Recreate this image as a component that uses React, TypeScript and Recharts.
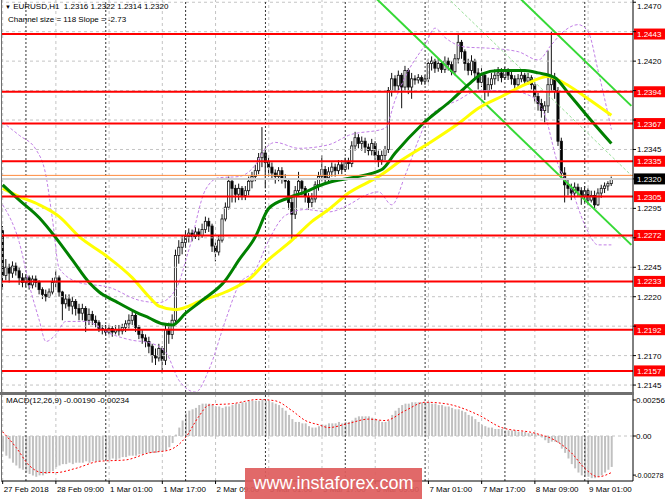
import { ComposedChart, Bar, Line, XAxis, YAxis, ReferenceLine } from "recharts";

// EURUSD H1, 27 Feb 17:00 .. 9 Mar 08:00 (one entry per hourly bar)
const FIRST_OPEN = 1.2276;

const CLOSE = [
  1.2238, 1.2245, 1.224, 1.2246, 1.2242, 1.2236, 1.2232, 1.2236, 1.223, 1.2235,
  1.2232, 1.2226, 1.2222, 1.222, 1.2224, 1.2232, 1.2236, 1.2224, 1.2214, 1.2218,
  1.2212, 1.2216, 1.221, 1.2206, 1.221, 1.22, 1.2205, 1.22, 1.2198, 1.2193,
  1.2192, 1.219, 1.2193, 1.219, 1.2192, 1.2191, 1.2194, 1.2197, 1.22, 1.2204,
  1.2194, 1.2188, 1.2185, 1.2182, 1.2178, 1.217, 1.2168, 1.2176, 1.2166, 1.2192,
  1.2188, 1.22, 1.2255, 1.2262, 1.2266, 1.2271, 1.2274, 1.2271, 1.2275, 1.2272,
  1.2277, 1.2284, 1.228, 1.2263, 1.2258, 1.2268, 1.2286, 1.2296, 1.2318, 1.2312,
  1.2307, 1.2312, 1.2306, 1.231, 1.2318, 1.2322, 1.2327, 1.2338, 1.2342, 1.2334,
  1.233, 1.2325, 1.2322, 1.2327, 1.232, 1.2318, 1.23, 1.229, 1.231, 1.2318,
  1.2312, 1.2305, 1.23, 1.2303, 1.2315, 1.2322, 1.2328, 1.2321, 1.2326, 1.233,
  1.2327, 1.2332, 1.2328, 1.2335, 1.2333, 1.2348, 1.2355, 1.235, 1.2352, 1.2347,
  1.2344, 1.235, 1.234, 1.2336, 1.234, 1.2345, 1.2395, 1.2405, 1.2399, 1.2408,
  1.2398, 1.2412, 1.2398, 1.2405, 1.2404, 1.2406, 1.2403, 1.2405, 1.2418, 1.242,
  1.2414, 1.2418, 1.2413, 1.242, 1.2417, 1.2411, 1.2422, 1.2436, 1.2428, 1.2418,
  1.2412, 1.242, 1.241, 1.2402, 1.2408, 1.2395, 1.24, 1.2405, 1.2408, 1.241,
  1.2406, 1.2412, 1.2408, 1.2405, 1.24, 1.2405, 1.2408, 1.2403, 1.2406, 1.24,
  1.239, 1.2384, 1.2378, 1.2382, 1.24, 1.2405, 1.2395, 1.2352, 1.2325, 1.2315,
  1.2312, 1.2308, 1.2313, 1.231, 1.2305, 1.231, 1.2302, 1.2306, 1.2298, 1.2308,
  1.2312, 1.2314, 1.2316, 1.232,
];

const HIGH = [
  1.228, 1.2252, 1.2248, 1.225, 1.2249, 1.2245, 1.224, 1.2239, 1.2238, 1.2238,
  1.2238, 1.2234, 1.2228, 1.2226, 1.2227, 1.2236, 1.2242, 1.2238, 1.2225, 1.2222,
  1.2222, 1.222, 1.2218, 1.2214, 1.2214, 1.2212, 1.221, 1.2208, 1.2204, 1.22,
  1.2196, 1.2196, 1.2196, 1.2195, 1.2196, 1.2196, 1.2197, 1.22, 1.2205, 1.2208,
  1.2206, 1.2196, 1.2192, 1.2188, 1.2186, 1.218, 1.2176, 1.218, 1.2178, 1.2196,
  1.2198, 1.2205, 1.226, 1.2268, 1.2272, 1.2276, 1.2278, 1.2277, 1.2279, 1.2278,
  1.2282, 1.2288, 1.2287, 1.2282, 1.2266, 1.2272, 1.229, 1.23, 1.2322, 1.232,
  1.2315, 1.2316, 1.2314, 1.2314, 1.2322, 1.2326, 1.2332, 1.2342, 1.2364, 1.2346,
  1.2338, 1.2334, 1.2328, 1.233, 1.233, 1.2324, 1.232, 1.2305, 1.2314, 1.2326,
  1.232, 1.2314, 1.2308, 1.2308, 1.2318, 1.2326, 1.234, 1.2331, 1.233, 1.2334,
  1.2333, 1.2336, 1.2336, 1.2338, 1.2338, 1.2352, 1.236, 1.2358, 1.2356, 1.2355,
  1.235, 1.2354, 1.2352, 1.2344, 1.2344, 1.2348, 1.2398, 1.241, 1.2408, 1.2412,
  1.241, 1.2416, 1.2414, 1.241, 1.2408, 1.2409, 1.2408, 1.2408, 1.2422, 1.2424,
  1.2422, 1.2422, 1.242, 1.2424, 1.2423, 1.242, 1.2426, 1.2444, 1.2438, 1.243,
  1.2422, 1.2425, 1.2422, 1.2414, 1.2414, 1.241, 1.2406, 1.241, 1.2413, 1.2415,
  1.2414, 1.2415, 1.2414, 1.2411, 1.2408, 1.2409, 1.2412, 1.241, 1.241, 1.2408,
  1.2402, 1.2393, 1.2388, 1.2386, 1.2429, 1.2445, 1.241, 1.2398, 1.2355, 1.233,
  1.232, 1.2316, 1.2317, 1.2316, 1.2313, 1.2314, 1.2312, 1.231, 1.231, 1.2312,
  1.2315, 1.2317, 1.2318, 1.2322,
];

const LOW = [
  1.2226, 1.2234, 1.2232, 1.2236, 1.2238, 1.223, 1.2228, 1.2228, 1.2226, 1.2227,
  1.2228, 1.2222, 1.2218, 1.2216, 1.2219, 1.2222, 1.2228, 1.222, 1.22, 1.221,
  1.2208, 1.2205, 1.2204, 1.22, 1.22, 1.219, 1.2196, 1.2196, 1.2194, 1.219,
  1.2188, 1.2187, 1.2188, 1.2186, 1.2188, 1.2187, 1.2188, 1.219, 1.2193, 1.2196,
  1.219, 1.2184, 1.218, 1.2177, 1.2172, 1.2164, 1.2162, 1.2165, 1.2155, 1.2162,
  1.218, 1.2184, 1.2196, 1.2248, 1.2256, 1.2262, 1.2266, 1.2267, 1.2269, 1.2268,
  1.227, 1.2274, 1.2275, 1.2258, 1.225, 1.2255, 1.2266, 1.2284, 1.2294, 1.23,
  1.23, 1.2302, 1.2302, 1.2302, 1.2306, 1.2312, 1.2318, 1.2324, 1.233, 1.2312,
  1.2322, 1.232, 1.2316, 1.2318, 1.2316, 1.2312, 1.2294, 1.2268, 1.2286, 1.2306,
  1.2306, 1.23, 1.2294, 1.2296, 1.23, 1.231, 1.2318, 1.2316, 1.2318, 1.2322,
  1.2322, 1.2324, 1.2324, 1.2326, 1.2328, 1.233, 1.2344, 1.2346, 1.2344, 1.2342,
  1.234, 1.234, 1.2336, 1.233, 1.2332, 1.2336, 1.2342, 1.239, 1.2394, 1.2394,
  1.238, 1.2395, 1.2392, 1.2388, 1.24, 1.2401, 1.24, 1.24, 1.2402, 1.2412,
  1.241, 1.2411, 1.241, 1.241, 1.2412, 1.2408, 1.2408, 1.2418, 1.2422, 1.2412,
  1.2408, 1.2408, 1.2404, 1.2396, 1.2398, 1.2387, 1.239, 1.2396, 1.24, 1.2403,
  1.2402, 1.2404, 1.2404, 1.24, 1.2396, 1.2398, 1.2402, 1.24, 1.24, 1.2396,
  1.2385, 1.2378, 1.2372, 1.2368, 1.2376, 1.2395, 1.2388, 1.2348, 1.232, 1.23,
  1.2306, 1.2302, 1.2304, 1.2305, 1.2298, 1.23, 1.2298, 1.23, 1.2295, 1.2297,
  1.2304, 1.2308, 1.231, 1.2314,
];

// indicator curves read at sample bars: [bar index, value]
const MA_GREEN: [number, number][] = [
  [0, 1.2315], [5, 1.2302], [11, 1.2287], [16, 1.227], [21, 1.2251], [26, 1.2232],
  [29, 1.2224], [34, 1.2216], [40, 1.2207], [44, 1.2202], [48, 1.2197], [51, 1.2196],
  [55, 1.2206], [60, 1.2217], [67, 1.2234], [71, 1.2251], [76, 1.2271], [80, 1.2295],
  [86, 1.2304], [91, 1.2309], [95, 1.2314], [98, 1.2317], [105, 1.2321], [114, 1.2328],
  [118, 1.2342], [126, 1.2366], [135, 1.2387], [140, 1.24], [144, 1.2409], [149, 1.2412],
  [157, 1.2412], [161, 1.241], [166, 1.2406], [170, 1.2393], [175, 1.2376], [183, 1.235],
];

const MA_YELLOW: [number, number][] = [
  [0, 1.2312], [5, 1.2305], [11, 1.2298], [17, 1.2288], [23, 1.2271], [31, 1.2255],
  [39, 1.2236], [44, 1.222], [47, 1.2212], [52, 1.2209], [60, 1.2217], [67, 1.2224],
  [75, 1.2237], [79, 1.2249], [87, 1.2268], [93, 1.2284], [98, 1.2294], [104, 1.2308],
  [113, 1.2322], [120, 1.2336], [128, 1.235], [137, 1.2367], [143, 1.238], [150, 1.239],
  [157, 1.24], [164, 1.2407], [169, 1.2401], [175, 1.239], [183, 1.2374],
];

const BAND_UPPER: [number, number][] = [
  [0, 1.2368], [5, 1.2357], [10, 1.2345], [13, 1.2323], [15, 1.2285], [17, 1.2244],
  [23, 1.2232], [32, 1.2228], [41, 1.2217], [47, 1.2215], [52, 1.2226], [56, 1.226],
  [61, 1.2311], [65, 1.2321], [71, 1.2322], [76, 1.2332], [79, 1.2346], [82, 1.2351],
  [89, 1.2346], [98, 1.2349], [104, 1.2357], [115, 1.2363], [118, 1.2387], [122, 1.2412],
  [127, 1.2434], [130, 1.2448], [133, 1.244], [139, 1.2432], [146, 1.2431], [155, 1.2428],
  [161, 1.2421], [165, 1.2434], [169, 1.2446], [173, 1.2451], [176, 1.2445], [179, 1.2412],
  [183, 1.2362],
];

const BAND_LOWER: [number, number][] = [
  [0, 1.2298], [5, 1.2266], [8, 1.223], [11, 1.22], [13, 1.2182], [16, 1.2188],
  [19, 1.2199], [25, 1.2199], [32, 1.2189], [39, 1.2183], [44, 1.2181], [49, 1.2173],
  [53, 1.2149], [58, 1.2139], [62, 1.2158], [67, 1.22], [71, 1.223], [76, 1.2243],
  [80, 1.2268], [85, 1.2289], [91, 1.2294], [98, 1.2292], [104, 1.2298], [109, 1.2306],
  [113, 1.2309], [117, 1.2298], [121, 1.2323], [125, 1.2353], [128, 1.2372], [137, 1.2387],
  [143, 1.2395], [152, 1.2395], [159, 1.239], [163, 1.2374], [167, 1.2332], [171, 1.2311],
  [175, 1.2281], [179, 1.2264], [183, 1.2264],
];

const MACD_HIST = [
  -0.0011, -0.0014, -0.0016, -0.0019, -0.0021, -0.0023, -0.0024, -0.0026, -0.0027, -0.0028,
  -0.0029, -0.0028, -0.0028, -0.0027, -0.0026, -0.0025, -0.0022, -0.0021, -0.002, -0.002,
  -0.0019, -0.002, -0.0019, -0.0019, -0.0019, -0.0018, -0.0019, -0.0018, -0.0018, -0.0018,
  -0.0017, -0.0017, -0.0017, -0.0016, -0.0017, -0.0016, -0.0015, -0.0015, -0.0014, -0.0014,
  -0.0014, -0.0013, -0.0013, -0.0012, -0.0012, -0.0012, -0.0012, -0.0011, -0.0011, -0.001,
  -0.0008, -0.0005, 0.0001, 0.0006, 0.0011, 0.0016, 0.0018, 0.0019, 0.002, 0.0022,
  0.0023, 0.0023, 0.0023, 0.0022, 0.0021, 0.0021, 0.002, 0.0021, 0.0021, 0.0022,
  0.0023, 0.0023, 0.0024, 0.0024, 0.0025, 0.0025, 0.0025, 0.0025, 0.0026, 0.0025,
  0.0025, 0.0024, 0.0023, 0.0022, 0.002, 0.0018, 0.0015, 0.0012, 0.001, 0.001,
  0.0009, 0.0009, 0.0007, 0.0006, 0.0006, 0.0007, 0.0008, 0.0008, 0.0009, 0.0009,
  0.0009, 0.001, 0.0009, 0.001, 0.001, 0.0011, 0.0013, 0.0014, 0.0014, 0.0014,
  0.0014, 0.0013, 0.0012, 0.0011, 0.001, 0.001, 0.0011, 0.0015, 0.0018, 0.002,
  0.0022, 0.0023, 0.0023, 0.0024, 0.0024, 0.0024, 0.0024, 0.0024, 0.0024, 0.0023,
  0.0023, 0.0022, 0.0022, 0.0021, 0.0021, 0.002, 0.0019, 0.0019, 0.0018, 0.0017,
  0.0015, 0.0014, 0.0012, 0.001, 0.0008, 0.0007, 0.0006, 0.0006, 0.0005, 0.0005,
  0.0005, 0.0004, 0.0004, 0.0004, 0.0004, 0.0003, 0.0003, 0.0003, 0.0002, 0.0002,
  0.0002, 0.0001, -0.0001, -0.0003, -0.0005, -0.0004, -0.0004, -0.0005, -0.0009, -0.0012,
  -0.0016, -0.002, -0.0023, -0.0026, -0.0028, -0.0029, -0.0029, -0.003, -0.003, -0.0029,
  -0.0028, -0.0026, -0.0024, -0.0022,
];

const MACD_SIGNAL: [number, number][] = [
  [0, 0.0003], [4, -0.0008], [8, -0.0021], [12, -0.0026], [16, -0.0026], [22, -0.0023],
  [29, -0.0018], [37, -0.0017], [44, -0.0012], [50, -0.001], [55, -0.0001], [59, 0.0014],
  [62, 0.0022], [69, 0.0023], [77, 0.0026], [82, 0.0025], [87, 0.0018], [91, 0.0011],
  [95, 0.0008], [98, 0.0006], [104, 0.0009], [110, 0.0012], [115, 0.0011], [121, 0.0018],
  [127, 0.0024], [133, 0.0023], [143, 0.0015], [150, 0.0006], [160, 0.0002], [166, -0.0003],
  [171, -0.0012], [175, -0.0023], [179, -0.0029], [183, -0.0026],
];

// regression channel (size 118, slope -2.73): endpoints [bar, price]
const CHANNEL_LOWER: [number, number][] = [[112, 1.2474], [189, 1.2264]];
const CHANNEL_MIDDLE: [number, number][] = [[112, 1.2533], [189, 1.2323]];
const CHANNEL_UPPER: [number, number][] = [[112, 1.2592], [189, 1.2382]];

const LEVELS = [1.2443, 1.2394, 1.2367, 1.2335, 1.2305, 1.2272, 1.2233, 1.2192, 1.2157];
const BID = 1.232;
const ASK = 1.2323;

const PRICE_TICKS = [
  1.2145, 1.217, 1.2195, 1.222, 1.2245, 1.227, 1.2295, 1.232, 1.2345, 1.237, 1.2395,
  1.242, 1.2445, 1.247,
];
const MACD_TICKS = [0.00256, 0, -0.00278];

const TIME_TICKS = [0, 16, 32, 48, 64, 80, 96, 112, 128, 144, 160, 176];
const TIME_LABELS = [
  "27 Feb 2018", "28 Feb 09:00", "1 Mar 01:00", "1 Mar 17:00", "2 Mar 09:00", "5 Mar 01:00",
  "5 Mar 17:00", "6 Mar 09:00", "7 Mar 01:00", "7 Mar 17:00", "8 Mar 09:00", "9 Mar 01:00",
];
const DAY_BREAKS = [7, 31, 55, 79, 103, 127, 151, 175];

const SLOTS = 190;

const FONT = "'Liberation Sans', Arial, sans-serif";

const lookup = (pts: [number, number][]) => new Map(pts);
const maG = lookup(MA_GREEN);
const maY = lookup(MA_YELLOW);
const bbU = lookup(BAND_UPPER);
const bbL = lookup(BAND_LOWER);
const sig = lookup(MACD_SIGNAL);

const rows = Array.from({ length: SLOTS }, (_, i) => {
  const has = i < CLOSE.length;
  return {
    i,
    open: has ? (i === 0 ? FIRST_OPEN : CLOSE[i - 1]) : null,
    close: has ? CLOSE[i] : null,
    high: has ? HIGH[i] : null,
    low: has ? LOW[i] : null,
    maG: maG.get(i) ?? null,
    maY: maY.get(i) ?? null,
    bbU: bbU.get(i) ?? null,
    bbL: bbL.get(i) ?? null,
    macd: has ? MACD_HIST[i] : null,
    signal: sig.get(i) ?? null,
  };
});

function Candle(props: any) {
  const { x, y, width, height, payload } = props;
  if (!payload || payload.close == null || !height) return null;
  const { open, close, high, low } = payload;
  const k = height / (high - low);
  const top = y + (high - Math.max(open, close)) * k;
  const bot = y + (high - Math.min(open, close)) * k;
  const cx = x + width / 2;
  const up = close >= open;
  return (
    <g>
      <line x1={cx} x2={cx} y1={y} y2={y + height} stroke="#111" strokeWidth={1} />
      <rect
        x={x + 0.4}
        y={top}
        width={width - 0.8}
        height={Math.max(bot - top, 0.8)}
        fill={up ? "#fff" : "#000"}
        stroke="#111"
        strokeWidth={0.8}
      />
    </g>
  );
}

function Tag(props: any) {
  const { viewBox, text, bg } = props;
  if (!viewBox) return null;
  const x = viewBox.x + viewBox.width + 1;
  const y = viewBox.y;
  return (
    <g>
      <rect x={x} y={y - 5.5} width={31} height={11} fill={bg} />
      <text x={x + 3} y={y + 3} fontSize={8} fill="#fff" fontFamily={FONT}>
        {text}
      </text>
    </g>
  );
}

// price labels that sit under a tag are not drawn (the tags cover them in the original)
const TAGGED = [...LEVELS, BID];
function PriceTick(props: any) {
  const { x, y, payload } = props;
  const v = payload.value as number;
  if (TAGGED.some((t) => Math.abs(t - v) < 0.0007)) return null;
  return (
    <text x={x} y={Math.max(y, 5.5) + 3} fontSize={8} fill="#000" fontFamily={FONT}>
      {v.toFixed(4)}
    </text>
  );
}

function MacdTick(props: any) {
  const { x, y, payload } = props;
  const v = payload.value as number;
  const txt = v === 0 ? "0.00" : v.toFixed(5);
  return (
    <text x={v < 0 ? 635 : x - 1} y={y + 3} fontSize={v < 0 ? 7.2 : 8} fill="#000" fontFamily={FONT}>
      {txt}
    </text>
  );
}

function TimeTick(props: any) {
  const { x, y, payload } = props;
  const idx = TIME_TICKS.indexOf(payload.value);
  return (
    <text x={x + 1} y={y + 6} fontSize={8} fill="#000" fontFamily={FONT}>
      {TIME_LABELS[idx]}
    </text>
  );
}

const gridX = (key: string) =>
  TIME_TICKS.map((t) => (
    <ReferenceLine key={`${key}g${t}`} x={t} stroke="#c4c4c4" strokeDasharray="3 3" />
  ));
const dayX = (key: string) =>
  DAY_BREAKS.map((t) => (
    <ReferenceLine key={`${key}d${t}`} x={t} stroke="#333" strokeDasharray="2 2" />
  ));

const seg = (pts: [number, number][]) => pts.map(([x, y]) => ({ x, y }));

export default function App() {
  return (
    <div
      style={{
        position: "absolute",
        left: 0,
        top: 0,
        width: 665,
        height: 499,
        background: "#fff",
        overflow: "hidden",
        fontFamily: FONT,
      }}
    >
      <div style={{ position: "absolute", left: 0, top: 0 }}>
        <ComposedChart width={665} height={392} data={rows} margin={{ top: 0, right: 0, bottom: 0, left: 1 }}>
          <XAxis dataKey="i" type="category" hide />
          <YAxis
            orientation="right"
            width={32}
            domain={[1.21391, 1.24719]}
            allowDataOverflow
            ticks={PRICE_TICKS}
            interval={0}
            tick={<PriceTick />}
            axisLine={{ stroke: "#000" }}
            tickLine={{ stroke: "#000" }}
            tickSize={3}
            tickMargin={1}
          />
          {PRICE_TICKS.map((p) => (
            <ReferenceLine key={`hp${p}`} y={p} stroke="#c4c4c4" strokeDasharray="3 3" />
          ))}
          {gridX("m")}
          {dayX("m")}
          <Line dataKey="bbU" type="monotone" stroke="#c27fe6" strokeWidth={1} strokeDasharray="3 2" dot={false} connectNulls isAnimationActive={false} />
          <Line dataKey="bbL" type="monotone" stroke="#c27fe6" strokeWidth={1} strokeDasharray="3 2" dot={false} connectNulls isAnimationActive={false} />
          <ReferenceLine segment={seg(CHANNEL_MIDDLE)} stroke="#9be09b" strokeDasharray="3 2" ifOverflow="hidden" />
          <ReferenceLine segment={seg(CHANNEL_UPPER)} stroke="#36d936" strokeWidth={2} ifOverflow="hidden" />
          <ReferenceLine segment={seg(CHANNEL_LOWER)} stroke="#36d936" strokeWidth={2} ifOverflow="hidden" />
          <Line dataKey="maY" type="monotone" stroke="#ffff00" strokeWidth={3} dot={false} connectNulls isAnimationActive={false} />
          <Line dataKey="maG" type="monotone" stroke="#008000" strokeWidth={3} dot={false} connectNulls isAnimationActive={false} />
          <Bar
            dataKey={(d: any) => (d.high == null ? null : [d.low, d.high])}
            barSize={3}
            shape={<Candle />}
            isAnimationActive={false}
          />
          <ReferenceLine y={ASK} stroke="#ff8a3d" strokeWidth={1} />
          <ReferenceLine y={BID} stroke="#cfcfcf" strokeWidth={2} label={<Tag text={BID.toFixed(4)} bg="#000" />} />
          {LEVELS.map((lv) => (
            <ReferenceLine
              key={`lv${lv}`}
              y={lv}
              stroke="#ff0000"
              strokeWidth={2}
              label={<Tag text={lv.toFixed(4)} bg="#ff0000" />}
            />
          ))}
        </ComposedChart>
      </div>

      <div style={{ position: "absolute", left: 0, top: 392, width: 634, height: 3, background: "#6f6f6f" }} />

      <div style={{ position: "absolute", left: 0, top: 395 }}>
        <ComposedChart width={665} height={104} data={rows} margin={{ top: 0, right: 0, bottom: 0, left: 1 }}>
          <XAxis
            dataKey="i"
            type="category"
            ticks={TIME_TICKS}
            interval={0}
            height={18}
            tick={<TimeTick />}
            axisLine={{ stroke: "#000" }}
            tickLine={{ stroke: "#000" }}
            tickSize={3}
            tickMargin={2}
          />
          <YAxis
            orientation="right"
            width={32}
            domain={[-0.0032, 0.002916]}
            allowDataOverflow
            ticks={MACD_TICKS}
            interval={0}
            tick={<MacdTick />}
            axisLine={{ stroke: "#000" }}
            tickLine={{ stroke: "#000" }}
            tickSize={3}
            tickMargin={1}
          />
          <ReferenceLine y={0} stroke="#c4c4c4" strokeDasharray="3 3" />
          {gridX("s")}
          {dayX("s")}
          <Bar dataKey="macd" fill="#c0c0c0" barSize={2} isAnimationActive={false} />
          <Line dataKey="signal" type="monotone" stroke="#ff0000" strokeWidth={1} strokeDasharray="2 2" dot={false} connectNulls isAnimationActive={false} />
        </ComposedChart>
      </div>

      <div style={{ position: "absolute", left: 1, top: 0, width: 1, height: 481, background: "#707070" }} />

      <div style={{ position: "absolute", left: 5, top: 2, fontSize: 8, lineHeight: "10px", whiteSpace: "pre", color: "#000" }}>
        <span style={{ fontSize: 6 }}>▼</span> EURUSD,H1  1.2316 1.2322 1.2314 1.2320
      </div>
      <div style={{ position: "absolute", left: 8, top: 15, fontSize: 8, lineHeight: "10px", whiteSpace: "pre", color: "#000" }}>
        Channel size = 118 Slope = -2.73
      </div>
      <div style={{ position: "absolute", left: 6, top: 396, fontSize: 8, lineHeight: "10px", whiteSpace: "pre", color: "#000" }}>
        MACD(12,26,9) -0.00190 -0.00234
      </div>

      <div
        style={{
          position: "absolute",
          left: 245,
          top: 468,
          width: 177,
          height: 31,
          background: "rgba(222, 92, 92, 0.92)",
          color: "#fff",
          fontSize: 18,
          lineHeight: "31px",
          textAlign: "center",
          fontFamily: FONT,
        }}
      >
        www.instaforex.com
      </div>
    </div>
  );
}
